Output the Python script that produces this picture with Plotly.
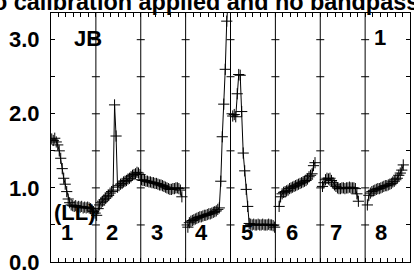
import plotly.graph_objects as go

# ---- data -------------------------------------------------------------
title_text = "No calibration applied and no bandpass"
panel_labels = ["1", "2", "3", "4", "5", "6", "7", "8"]
y_tick_vals = [0.0, 0.5, 1.0, 1.5, 2.0, 2.5, 3.0]
y_tick_text = ["0.0", "", "1.0", "", "2.0", "", "3.0"]
channels = list(range(30))

panel1 = [1.66, 1.64, 1.67, 1.62, 1.58, 1.50, 1.40, 1.26, 1.13, 1.05,
          0.95, 0.85, 0.80, 0.77, 0.76, 0.75, 0.76, 0.74, 0.75, 0.74,
          0.75, 0.73, 0.74, 0.73, 0.74, 0.73, 0.72, 0.70, 0.68, 0.66]
panel2 = [0.63, 0.72, 0.77, 0.80, 0.82, 0.84, 0.86, 0.88, 0.90, 0.93,
          0.95, 0.97, 2.12, 1.70, 1.01, 1.03, 1.05, 1.06, 1.08, 1.09,
          1.10, 1.12, 1.13, 1.15, 1.17, 1.18, 1.19, 1.21, 1.20, 1.18]
panel3 = [1.11, 1.10, 1.10, 1.09, 1.09, 1.08, 1.08, 1.07, 1.07, 1.06,
          1.06, 1.05, 1.04, 1.04, 1.03, 1.02, 1.01, 1.00, 0.99, 0.98,
          0.98, 0.99, 0.99, 1.00, 1.00, 0.99, 0.97, 0.88, None, None]
panel4 = [None, 0.47, 0.53, 0.55, 0.56, 0.57, 0.58, 0.59, 0.60, 0.61,
          0.61, 0.62, 0.63, 0.63, 0.64, 0.65, 0.65, 0.66, 0.67, 0.68,
          0.69, 0.71, 0.73, 1.09, 1.69, 2.13, 2.60, 3.25, 3.55, None]
panel5 = [None, 1.97, 1.99, 1.96, 2.27, 2.53, 2.52, 2.03, 1.47, 1.23,
          0.98, 0.75, 0.52, 0.51, 0.50, 0.51, 0.50, 0.50, 0.51, 0.50,
          0.50, 0.51, 0.50, 0.50, 0.50, 0.51, 0.50, 0.50, 0.49, 0.47]
panel6 = [None, None, 0.75, 0.88, 0.92, 0.94, 0.95, 0.96, 0.97, 0.99,
          1.00, 1.01, 1.02, 1.03, 1.04, 1.05, 1.06, 1.07, 1.08, 1.09,
          1.10, 1.12, 1.15, 1.17, 1.19, 1.30, 1.34, None, None, None]
panel7 = [None, 1.02, 1.07, 1.11, 1.13, 1.12, 1.13, 1.10, 1.07, 1.04,
          1.02, 1.00, 0.99, 0.99, 1.00, 1.00, 0.99, 1.00, 1.00, 1.01,
          1.00, 1.00, 1.00, 0.99, 0.92, 0.82, None, None, None, None]
panel8 = [None, 0.77, 0.90, 0.93, 0.95, 0.96, 0.97, 0.98, 0.99, 0.99,
          1.00, 1.01, 1.02, 1.03, 1.03, 1.04, 1.05, 1.06, 1.08, 1.09,
          1.11, 1.13, 1.17, 1.20, 1.24, 1.31, None, None, None, None]
panels = [panel1, panel2, panel3, panel4, panel5, panel6, panel7, panel8]

# ---- figure -----------------------------------------------------------
n_panels = len(panels)
n_ch = len(channels)
fig = go.Figure()
for p, vals in enumerate(panels):
    xs = [p + (c + 0.5) / n_ch for c in channels]
    fig.add_trace(go.Scatter(
        x=xs, y=vals, mode="lines+markers", connectgaps=False,
        line=dict(color="black", width=1),
        marker=dict(symbol="cross-thin", size=8,
                    line=dict(color="black", width=1)),
        showlegend=False, hoverinfo="skip"))

BF = dict(family="Liberation Sans, Arial, sans-serif", size=22,
          color="black", weight="bold")

shapes = []
for d in range(1, n_panels):
    shapes.append(dict(type="line", xref="x", yref="paper", x0=d, x1=d,
                       y0=0, y1=1, line=dict(color="black", width=1)))
    for yv in y_tick_vals[1:]:
        shapes.append(dict(type="line", xref="x", yref="y",
                           xsizemode="pixel", xanchor=d, x0=-4, x1=4,
                           y0=yv, y1=yv, line=dict(color="black", width=1)))

annotations = []
for p, lab in enumerate(panel_labels):
    annotations.append(dict(x=p + 0.36, y=0.40, xref="x", yref="y",
                            text=lab, showarrow=False, font=BF))
annotations.append(dict(x=0.83, y=3.01, xref="x", yref="y", text="JB",
                        showarrow=False, font=BF))
annotations.append(dict(x=7.34, y=3.03, xref="x", yref="y", text="1",
                        showarrow=False, font=BF))
annotations.append(dict(x=0.53, y=0.67, xref="x", yref="y", text="(LL)",
                        showarrow=False, font=BF))
# title (placed as a paper annotation so that it may sit partly off-page)
annotations.append(dict(x=(197.5 - 51) / 359, y=1.046, xref="paper",
                        yref="paper", xanchor="center", yanchor="middle",
                        text=title_text, showarrow=False,
                        font=dict(family="Liberation Sans, Arial, sans-serif",
                                  size=23.4, color="black", weight="bold")))

fig.update_layout(
    width=414, height=271,
    margin=dict(l=51, r=4, t=13, b=9, autoexpand=False),
    paper_bgcolor="white", plot_bgcolor="white",
    xaxis=dict(range=[0, n_panels], tickvals=[k / 6 for k in range(6 * n_panels + 1)],
               ticks="inside", ticklen=4, tickcolor="black", tickwidth=1,
               showticklabels=False, showgrid=False, zeroline=False,
               automargin=False,
               showline=True, linecolor="black", linewidth=1, mirror="ticks"),
    yaxis=dict(range=[0, 3.36], tickvals=y_tick_vals, ticktext=y_tick_text,
               ticks="inside", ticklen=4, tickcolor="black", tickwidth=1,
               tickfont=BF, ticklabelstandoff=6, automargin=False,
               ticklabeloverflow="allow",
               showgrid=False, zeroline=False,
               showline=True, linecolor="black", linewidth=1, mirror="ticks"),
    shapes=shapes, annotations=annotations,
)
fig.write_html("out.html", config={"displayModeBar": False},
               post_script="document.body.style.margin='0';"
                           "document.body.style.overflow='hidden';")
